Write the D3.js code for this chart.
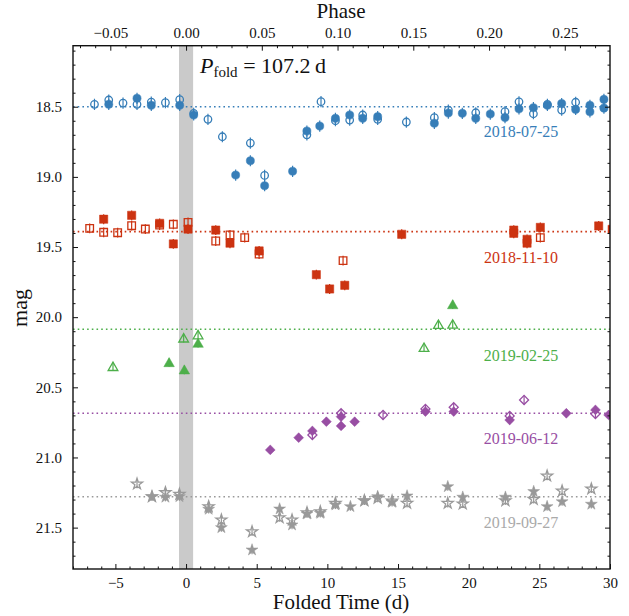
<!DOCTYPE html>
<html>
<head>
<meta charset="utf-8">
<script src="https://cdn.jsdelivr.net/npm/d3@7"></script>
<style>
  body { margin: 0; background: #fff; }
</style>
</head>
<body>
<script>
// folded light curves: [folded day, mag]
var period = 107.2;

var blueFilled = [[-5.47,18.483],[-3.47,18.44],[-2.46,18.49],[-0.45,18.49],[0.54,18.559],[3.51,18.987],[4.55,18.885],
  [5.56,19.063],[7.54,18.96],[8.55,18.673],[9.46,18.638],[10.57,18.583],[11.58,18.559],[12.5,18.583],[13.56,18.571],
  [17.57,18.618],[18.56,18.545],[19.55,18.547],[20.5,18.583],[21.53,18.552],[22.57,18.577],[23.56,18.515],[24.58,18.507],
  [25.57,18.49],[26.58,18.477],[27.57,18.519],[28.58,18.49],[28.58,18.536],[29.57,18.448],[29.57,18.51]];
var blueOpen = [[-6.48,18.483],[-5.47,18.452],[-4.46,18.474],[-3.47,18.483],[-2.46,18.467],[-1.46,18.471],[-0.45,18.45],
  [0.54,18.547],[1.55,18.59],[2.57,18.714],[4.55,18.759],[5.56,18.99],[8.55,18.70],[9.55,18.464],[10.57,18.6],
  [11.58,18.595],[12.5,18.559],[13.56,18.59],[15.59,18.609],[17.57,18.578],[18.56,18.524],[20.5,18.543],
  [22.57,18.535],[23.56,18.465],[24.58,18.55],[25.57,18.484],[26.58,18.524],[27.57,18.468]];

var redFilled = [[-5.83,19.302],[-3.85,19.274],[-1.87,19.331],[-0.9,19.478],[0.14,19.372],[2.1,19.379],[3.11,19.473],
  [5.17,19.528],[9.22,19.697],[10.16,19.799],[11.23,19.773],[15.26,19.409],[23.19,19.379],[23.19,19.402],
  [24.13,19.445],[24.13,19.473],[25.07,19.36],[29.2,19.35],[30.15,19.374]];
var redOpen = [[-6.82,19.367],[-5.83,19.395],[-4.84,19.398],[-3.85,19.348],[-2.88,19.372],[-1.87,19.343],[-0.9,19.338],
  [0.14,19.324],[2.1,19.457],[3.11,19.414],[4.15,19.433],[5.17,19.55],[11.11,19.597],[25.07,19.433]];

var greenFilled = [[-1.2,20.324],[-0.12,20.376],[0.85,20.186],[18.87,19.911]];
var greenOpen = [[-5.17,20.353],[-0.17,20.15],[0.85,20.127],[16.84,20.217],[17.86,20.053],[18.87,20.051]];

var purpleFilled = [[5.96,20.946],[7.97,20.859],[8.94,20.811],[9.93,20.745],[10.97,20.709],[10.97,20.775],[11.93,20.745],
  [16.94,20.673],[18.94,20.673],[22.9,20.733],[26.91,20.685],[28.97,20.661],[29.9,20.697]];
var purpleOpen = [[8.94,20.84],[10.97,20.685],[13.94,20.697],[16.94,20.654],[18.94,20.642],[22.9,20.704],[23.92,20.59],[28.97,20.69]];

var grayFilled = [[-2.41,21.279],[-1.46,21.283],[-0.47,21.279],[1.6,21.369],[2.5,21.5],[4.67,21.659],[6.62,21.367],
  [7.5,21.481],[8.56,21.402],[9.5,21.398],[10.57,21.338],[11.63,21.35],[12.62,21.308],[13.56,21.279],[14.58,21.319],
  [15.64,21.274],[18.52,21.208],[19.58,21.283],[22.6,21.283],[24.6,21.243],[25.55,21.35],[26.61,21.315],[28.68,21.333]];
var grayOpen = [[-3.47,21.189],[-2.41,21.279],[-1.46,21.25],[-0.47,21.262],[1.6,21.35],[2.5,21.445],[4.67,21.529],
  [6.62,21.429],[7.5,21.445],[8.56,21.393],[9.5,21.386],[10.57,21.326],[12.62,21.308],[13.56,21.29],[14.58,21.31],
  [15.64,21.326],[18.52,21.326],[19.58,21.331],[22.6,21.308],[24.6,21.298],[25.55,21.132],[26.61,21.239],[28.68,21.224]];

var epochs = ["2018-07-25","2018-11-10","2019-02-25","2019-06-12","2019-09-27"];
var refMags = [18.5, 19.39, 20.086, 20.685, 21.28];
var magErrs = [0.04, 0.035, 0.03, 0.03, 0.03];
var dayTicks = [-5,0,5,10,15,20,25,30];
var magTicks = [18.5,19.0,19.5,20.0,20.5,21.0,21.5];
var phaseTicks = [-0.05,0,0.05,0.10,0.15,0.20,0.25];

var colors = ["#377eb8","#cc3311","#4daf4a","#984ea3","#999999"];
var shapes = ["circle","square","triangle","diamond","star"];
var filledSets = [blueFilled, redFilled, greenFilled, purpleFilled, grayFilled];
var openSets = [blueOpen, redOpen, greenOpen, purpleOpen, grayOpen];

var serif = "Liberation Serif";
var W = 629, H = 616;
var box = {left:73, right:610, top:45.7, bottom:569};

var x = d3.scaleLinear().domain([-8,30]).range([box.left, box.right]);
var y = d3.scaleLinear().domain([18.065,21.795]).range([box.top, box.bottom]);
var xp = d3.scaleLinear().domain([-8/period, 30/period]).range([box.left, box.right]);

var svg = d3.select("body").append("svg").attr("width", W).attr("height", H);

svg.append("defs").append("clipPath").attr("id","clip")
  .append("rect").attr("x",box.left).attr("y",box.top)
  .attr("width",box.right-box.left).attr("height",box.bottom-box.top);

var plot = svg.append("g").attr("clip-path","url(#clip)");

//grey band at zero phase
plot.append("rect")
  .attr("x", x(-0.5)).attr("width", x(0.5)-x(-0.5))
  .attr("y", box.top).attr("height", box.bottom-box.top)
  .attr("fill","#cacaca");

//reference levels
refMags.forEach(function(m,i){
  plot.append("line")
    .attr("x1",box.left).attr("x2",box.right)
    .attr("y1",y(m)).attr("y2",y(m))
    .attr("stroke",colors[i]).attr("stroke-width",1.6)
    .attr("stroke-dasharray","1.6,3.1");
});

function symbolFor(name, size){
  var t = {circle:d3.symbolCircle, square:d3.symbolSquare, triangle:d3.symbolTriangle,
           diamond:d3.symbolSquare, star:d3.symbolStar}[name];
  return d3.symbol().type(t).size(size)();
}
var sizes = {circle:52, square:68, triangle:48, diamond:48, star:44};

function drawPoints(data, i, open){
  var g = plot.append("g");
  //error bars
  g.selectAll("line").data(data).enter().append("line")
    .attr("x1",function(d){return x(d[0]);}).attr("x2",function(d){return x(d[0]);})
    .attr("y1",function(d){return y(d[1]-magErrs[i]);})
    .attr("y2",function(d){return y(d[1]+magErrs[i]);})
    .attr("stroke",colors[i]).attr("stroke-width",1.2);
  var path = symbolFor(shapes[i], sizes[shapes[i]] * (open ? 0.85 : 1));
  g.selectAll("path").data(data).enter().append("path")
    .attr("d", path)
    .attr("transform", function(d){
      var t = "translate(" + x(d[0]) + "," + y(d[1]) + ")";
      if (shapes[i] === "diamond") t += " rotate(45)";
      if (shapes[i] === "triangle") t += " translate(0,1)";
      return t;
    })
    .attr("fill", open ? "none" : colors[i])
    .attr("stroke", colors[i])
    .attr("stroke-width", open ? 1.3 : 0.5);
}

for (var i = 0; i < 5; i++){
  drawPoints(filledSets[i], i, false);
  drawPoints(openSets[i], i, true);
}

//series labels
var labelY = [137, 262.5, 360.5, 444, 527.5];
epochs.forEach(function(e,i){
  svg.append("text")
    .attr("x", 521).attr("y", labelY[i])
    .attr("text-anchor","middle")
    .style("font-size","16px")
    .style("fill", i === 4 ? "#aaaaaa" : colors[i])
    .text(e);
});

//axes, ticks pointing inwards
function range(a,b,s){ var r=[]; for (var v=a; v<=b+1e-9; v+=s) r.push(+v.toFixed(4)); return r; }
var minorDays = range(-8,30,1).filter(function(v){return dayTicks.indexOf(v) < 0;});
var minorMags = range(18.1,21.7,0.1).filter(function(v){return magTicks.every(function(t){return Math.abs(t-v)>1e-6;});});
var minorPhase = range(-0.07,0.27,0.01).filter(function(v){return phaseTicks.every(function(t){return Math.abs(t-v)>1e-6;});});

function styleAxis(g){
  g.select(".domain").remove();
  g.selectAll(".tick line").attr("stroke","#111").attr("stroke-width",1);
  g.selectAll("text").style("font-size","15px").attr("fill","#111");
}

svg.append("g").attr("transform","translate(0,"+box.bottom+")")
  .call(d3.axisBottom(x).tickValues(dayTicks).tickSize(-5).tickPadding(8).tickFormat(d3.format("d")))
  .call(styleAxis);
svg.append("g").attr("transform","translate(0,"+box.bottom+")")
  .call(d3.axisBottom(x).tickValues(minorDays).tickSize(-2.5).tickFormat(""))
  .call(styleAxis);

svg.append("g").attr("transform","translate(0,"+box.top+")")
  .call(d3.axisTop(xp).tickValues(phaseTicks).tickSize(-5).tickPadding(8).tickFormat(d3.format(".2f")))
  .call(styleAxis);
svg.append("g").attr("transform","translate(0,"+box.top+")")
  .call(d3.axisTop(xp).tickValues(minorPhase).tickSize(-2.5).tickFormat(""))
  .call(styleAxis);

svg.append("g").attr("transform","translate("+box.left+",0)")
  .call(d3.axisLeft(y).tickValues(magTicks).tickSize(-5).tickPadding(11).tickFormat(d3.format(".1f")))
  .call(styleAxis);
svg.append("g").attr("transform","translate("+box.left+",0)")
  .call(d3.axisLeft(y).tickValues(minorMags).tickSize(-2.5).tickFormat(""))
  .call(styleAxis);
svg.append("g").attr("transform","translate("+box.right+",0)")
  .call(d3.axisRight(y).tickValues(magTicks).tickSize(-5).tickFormat(""))
  .call(styleAxis);
svg.append("g").attr("transform","translate("+box.right+",0)")
  .call(d3.axisRight(y).tickValues(minorMags).tickSize(-2.5).tickFormat(""))
  .call(styleAxis);

//frame
svg.append("rect")
  .attr("x",box.left).attr("y",box.top)
  .attr("width",box.right-box.left).attr("height",box.bottom-box.top)
  .attr("fill","none").attr("stroke","#111").attr("stroke-width",1.4);

//axis titles
svg.append("text").attr("x",341).attr("y",609).attr("text-anchor","middle")
  .style("font-size","21px").attr("fill","#111").text("Folded Time (d)");
svg.append("text").attr("x",341).attr("y",18).attr("text-anchor","middle")
  .style("font-size","21px").attr("fill","#111").text("Phase");
svg.append("text").attr("transform","translate(27,308) rotate(-90)").attr("text-anchor","middle")
  .style("font-size","22px").attr("fill","#111").text("mag");

//period annotation
var ann = svg.append("text").attr("x",200).attr("y",73).style("font-size","22px").attr("fill","#111");
ann.append("tspan").style("font-style","italic").text("P");
ann.append("tspan").attr("dy",4).style("font-size","15px").text("fold");
ann.append("tspan").attr("dy",-4).text(" = 107.2\u2009d");

svg.selectAll("text").style("font-family", serif);
</script>
</body>
</html>
